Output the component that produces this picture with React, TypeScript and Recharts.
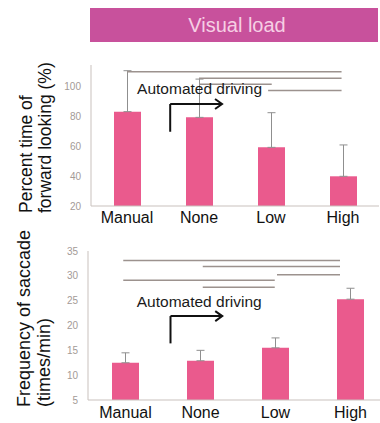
import React from "react";
import {
  Bar,
  BarChart,
  ErrorBar,
  ReferenceDot,
  ReferenceLine,
  XAxis,
  YAxis,
} from "recharts";

// Conditions shared by both panels
const conditions = ["Manual", "None", "Low", "High"];

// Percent time of forward looking (%), mean and upper SD
const forwardMeans = [82.9, 79.1, 59.1, 39.8];
const forwardErrors = [27.3, 25.5, 23.1, 20.9];
const forwardTicks = [20, 40, 60, 80, 100];

// Frequency of saccade (times/min), mean and upper SD
const saccadeMeans = [12.5, 12.9, 15.5, 25.3];
const saccadeErrors = [2.0, 2.1, 2.0, 2.2];
const saccadeTicks = [5, 10, 15, 20, 25, 30, 35];

// Significance brackets: [from, to, level] on a 0..4 band scale
const forwardBrackets = [
  [0.5, 3.48, 109.5],
  [1.5, 3.48, 105.1],
  [1.5, 2.51, 101.1],
  [2.46, 3.48, 97],
];
const saccadeBrackets = [
  [0.47, 3.36, 33.1],
  [1.53, 3.36, 31.9],
  [2.52, 3.36, 30.2],
  [0.47, 2.49, 29.1],
  [1.53, 2.49, 27.7],
];

const FONT = "'Liberation Sans', Arial, sans-serif";
const BAR = "#ea5a8d";
const FRAME = "#c9c1bd";
const BRACKET = "#9c928e";
const TICK = "#a39a96";

const buildRows = (means: number[], errors: number[]) =>
  conditions.map((name, i) => ({
    name,
    pos: i + 0.5,
    value: means[i],
    err: [0, errors[i]],
  }));

const forwardRows = buildRows(forwardMeans, forwardErrors);
const saccadeRows = buildRows(saccadeMeans, saccadeErrors);

// two-line rotated axis title, bottom aligned like the original slide
const yTitle = (lines: string[], xs: number[], yStart: number, size: number) => () =>
  (
    <g>
      {lines.map((t, i) => (
        <text
          key={t}
          x={xs[i]}
          y={yStart}
          transform={`rotate(-90 ${xs[i]} ${yStart})`}
          fontFamily={FONT}
          fontSize={size}
          fill="#111"
        >
          {t}
        </text>
      ))}
    </g>
  );

const arrowHead = (p: any) => (
  <path
    d={`M ${p.cx - 7} ${p.cy - 5} L ${p.cx} ${p.cy} L ${p.cx - 7} ${p.cy + 5}`}
    fill="none"
    stroke="#111"
    strokeWidth={2}
  />
);

const caption = (p: any) => (
  <text
    x={p.cx}
    y={p.cy}
    dominantBaseline="central"
    fontFamily={FONT}
    fontSize={15.5}
    fill="#1a1a1a"
  >
    Automated driving
  </text>
);

interface PanelProps {
  rows: { name: string; pos: number; value: number; err: number[] }[];
  width: number;
  height: number;
  margin: { top: number; right: number; bottom: number; left: number };
  yWidth: number;
  xHeight: number;
  domain: [number, number];
  ticks: number[];
  brackets: number[][];
  arrow: { x: number; y0: number; y1: number; x1: number };
  text: { x: number; y: number };
  title: () => React.ReactElement;
  tickGap: number;
}

function Panel(props: PanelProps) {
  const { rows, arrow, text } = props;
  return (
    <BarChart
      width={props.width}
      height={props.height}
      data={rows}
      margin={props.margin}
      barSize={27}
    >
      <XAxis
        dataKey="name"
        axisLine={{ stroke: FRAME }}
        tickLine={false}
        tickSize={0}
        tickMargin={props.tickGap}
        height={props.xHeight}
        tick={{ fontFamily: FONT, fontSize: 16, fill: "#111" }}
      />
      <XAxis
        xAxisId="n"
        dataKey="pos"
        type="number"
        orientation="top"
        domain={[0, 4]}
        padding={{ left: 0, right: 0 }}
        height={0}
        tick={false}
        tickLine={false}
        axisLine={{ stroke: FRAME }}
        allowDataOverflow
      />
      <YAxis
        domain={props.domain}
        ticks={props.ticks}
        width={props.yWidth}
        axisLine={{ stroke: FRAME }}
        tickLine={false}
        tickSize={0}
        tickMargin={10}
        allowDataOverflow
        tick={{ fontFamily: FONT, fontSize: 10, fill: TICK }}
        label={{ content: props.title }}
      />
      <YAxis
        yAxisId="r"
        orientation="right"
        width={0}
        tick={false}
        tickLine={false}
        axisLine={{ stroke: FRAME }}
      />
      <Bar dataKey="value" fill={BAR} isAnimationActive={false}>
        <ErrorBar
          dataKey="err"
          direction="y"
          width={4}
          stroke="#8f8f8f"
          strokeWidth={1}
          isAnimationActive={false}
        />
      </Bar>
      {props.brackets.map(([a, b, lv], i) => (
        <ReferenceLine
          key={i}
          xAxisId="n"
          ifOverflow="visible"
          segment={[
            { x: a, y: lv },
            { x: b, y: lv },
          ]}
          stroke={BRACKET}
          strokeWidth={1.5}
        />
      ))}
      <ReferenceLine
        xAxisId="n"
        ifOverflow="visible"
        segment={[
          { x: arrow.x, y: arrow.y0 },
          { x: arrow.x, y: arrow.y1 },
        ]}
        stroke="#111"
        strokeWidth={2}
      />
      <ReferenceLine
        xAxisId="n"
        ifOverflow="visible"
        segment={[
          { x: arrow.x, y: arrow.y1 },
          { x: arrow.x1, y: arrow.y1 },
        ]}
        stroke="#111"
        strokeWidth={2}
      />
      <ReferenceDot xAxisId="n" ifOverflow="visible" x={arrow.x1} y={arrow.y1} r={1} shape={arrowHead} />
      <ReferenceDot xAxisId="n" ifOverflow="visible" x={text.x} y={text.y} r={1} shape={caption} />
    </BarChart>
  );
}

export default function App() {
  return (
    <div
      style={{
        position: "absolute",
        left: 0,
        top: 0,
        width: 380,
        height: 423,
        overflow: "hidden",
        background: "#fff",
        fontFamily: FONT,
      }}
    >
      <div
        style={{
          position: "absolute",
          left: 90,
          top: 8,
          width: 288,
          height: 34,
          background: "#c8519c",
          color: "#f6cfe4",
          fontSize: 20,
          lineHeight: "34px",
          textAlign: "center",
          paddingLeft: 6,
          boxSizing: "border-box",
        }}
      >
        Visual load
      </div>
      <div style={{ position: "absolute", left: 0, top: 0 }}>
        <Panel
          rows={forwardRows}
          width={380}
          height={230}
          margin={{ top: 65, right: 1, bottom: 0, left: 0 }}
          yWidth={91}
          xHeight={24}
          domain={[20, 114]}
          ticks={forwardTicks}
          brackets={forwardBrackets}
          arrow={{ x: 1.1, y0: 69.5, y1: 88, x1: 1.82 }}
          text={{ x: 0.64, y: 98.3 }}
          title={yTitle(["Percent time of", "forward looking (%)"], [32, 50.5], 213, 17.5)}
          tickGap={6}
        />
      </div>
      <div style={{ position: "absolute", left: 0, top: 200 }}>
        <Panel
          rows={saccadeRows}
          width={390}
          height={223}
          margin={{ top: 51, right: 2, bottom: 0, left: 0 }}
          yWidth={88}
          xHeight={23}
          domain={[5, 35]}
          ticks={saccadeTicks}
          brackets={saccadeBrackets}
          arrow={{ x: 1.1, y0: 16.4, y1: 21.9, x1: 1.79 }}
          text={{ x: 0.65, y: 24.9 }}
          title={yTitle(["Frequency of saccade", "(times/min)"], [30, 50], 207, 18)}
          tickGap={7}
        />
      </div>
    </div>
  );
}
